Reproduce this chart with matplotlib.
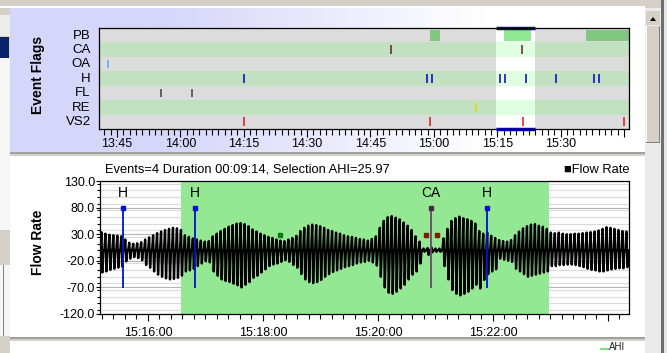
import numpy as np
import matplotlib
matplotlib.use("Agg")
import matplotlib.pyplot as plt
from matplotlib.patches import Rectangle, Polygon
from matplotlib.ticker import MultipleLocator, FuncFormatter

plt.rcParams['font.family'] = ['Liberation Sans', 'DejaVu Sans']

# ---- data ----
rows = ["PB", "CA", "OA", "H", "FL", "RE", "VS2"]

top_window = ("13:40:46", "15:46:10")
top_selection = ("15:14:40", "15:23:50")

pb_spans = [("14:59:10", "15:01:20"), ("15:16:35", "15:22:58"), ("15:36:05", "15:46:10")]
ca_times = ["14:49:50", "15:20:55"]
oa_times = ["13:42:50"]
h_times = ["14:15:00", "14:58:20", "14:59:30", "15:15:34", "15:16:49",
           "15:21:54", "15:28:50", "15:37:50", "15:39:00"]
fl_times = ["13:55:20", "14:02:40"]
re_times = ["15:09:55"]
vs2_times = ["14:15:00", "14:59:00", "15:21:00", "15:44:55"]

flow_window = ("15:15:10", "15:24:22")

# per breath peak / trough of the flow rate trace
peaks = [34, 31, 29, 28, 27, 26,
         20, 14, 12, 13, 15,
         20, 24, 28, 32, 35, 38, 40, 42, 41, 38,
         28, 25, 22, 20, 18, 16, 17,
         26, 31, 36, 40, 44, 47,
         50, 51, 49, 45,
         39, 35, 31, 28, 25, 23,
         20, 18, 17, 20, 23, 27,
         36, 42, 46, 48, 47, 45, 42,
         38, 36, 33, 31, 28, 26, 25, 23, 21, 20,
         18, 21, 26,
         42, 55, 62, 64, 61, 58, 52, 46, 38,
         26, 16,
         3, 4, 5, 3, 3,
         22, 40, 55, 60, 63, 60, 58, 55, 50,
         36, 31, 33, 27, 23,
         19, 17, 16, 19,
         28, 35, 41, 45, 48, 49, 46, 44, 40,
         33, 32, 33, 31, 30, 30, 31, 31, 32, 33, 34, 35,
         37, 40, 43, 42, 40, 38, 36, 35]
troughs = [-42, -40, -37, -35, -33, -31,
           -21, -16, -13, -15, -19,
           -28, -33, -40, -46, -50, -53, -55, -54, -52, -48,
           -40, -38, -35, -30, -25, -21, -23,
           -40, -48, -55, -58, -60, -63,
           -66, -70, -65, -60,
           -52, -48, -42, -36, -30, -27,
           -25, -22, -19, -22, -28, -33,
           -45, -55, -60, -62, -60, -56, -50,
           -45, -41, -38, -35, -32, -30, -28, -25, -23, -22,
           -20, -23, -29,
           -50, -70, -80, -82, -78, -72, -65, -55, -46,
           -40, -25,
           -3, -9, -4, -3, -3,
           -30, -55, -75, -82, -85, -82, -78, -72, -65,
           -72, -56, -45, -40, -36,
           -16, -18, -20, -22,
           -35, -40, -45, -50, -48, -46, -44, -42, -40,
           -30, -30, -28, -28, -27, -27, -28, -30, -32, -35, -37, -38,
           -40, -40, -38, -36, -35, -34, -34, -32]

flow_dots = [("15:18:18", 29), ("15:20:50", 28), ("15:21:02", 28)]
marker_top, marker_bottom = 80, -72

title = "Events=4 Duration 00:09:14, Selection AHI=25.97"


def mins(s):
    p = [int(v) for v in s.split(":")]
    while len(p) < 3:
        p.append(0)
    return p[0] * 60 + p[1] + p[2] / 60.0


W, H = 667, 353
fig = plt.figure(figsize=(W / 100, H / 100), dpi=100)


def box(x0, y0, x1, y1):
    return [x0 / W, 1 - y1 / H, (x1 - x0) / W, (y1 - y0) / H]


# ---- window chrome ----
bg = fig.add_axes([0, 0, 1, 1], zorder=-5)
bg.axis('off')


def rect(x0, y0, x1, y1, c):
    bg.add_patch(Rectangle((x0, y0), x1 - x0, y1 - y0, color=c, lw=0))


grad = np.array([[[214, 214, 250], [255, 255, 255]]]) / 255.0
bg.imshow(grad, extent=[10, 645, 153, 8], aspect='auto', interpolation='bilinear')
rect(0, 0, W, 8, "#d4d0c8")
rect(0, 6, 645, 8, "#ffffff")
rect(0, 8, 10, 353, "#d4d0c8")
rect(0, 15, 10, 36, "#ececec")
rect(0, 37, 9, 58, "#0a246a")
rect(0, 58, 10, 230, "#f6f6f6")
rect(0, 265, 10, 336, "#f6f6f6")
rect(3, 265, 4, 336, "#808080")
rect(10, 152, 645, 157, "#d4d0c8")
rect(10, 152, 645, 153.5, "#a0a0a0")
rect(10, 155.5, 645, 157, "#ffffff")
rect(10, 157, 645, 337, "#ffffff")
rect(10, 337, 645, 341, "#d4d0c8")
rect(10, 337, 645, 338.5, "#a0a0a0")
rect(10, 341, 645, 353, "#ffffff")
# scrollbar
rect(645, 8, 661, 353, "#ebebeb")
rect(646, 11, 660, 25, "#d4d0c8")
rect(646, 26, 660, 143, "#d4d0c8")
rect(646, 26, 647, 143, "#ffffff")
rect(659, 26, 660, 143, "#808080")
rect(646, 142, 660, 143, "#808080")
bg.add_patch(Polygon([[650, 21], [656, 21], [653, 17]], color="k", lw=0))
rect(661, 0, 664, 353, "#6e6e6e")
rect(664, 0, W, 353, "#e6e6e6")
bg.plot([601, 608], [349, 349], color="#80e080", lw=1.5)
bg.text(609, 351.5, "AHI", fontsize=7, va='bottom', ha='left', color="#202020")
bg.set_xlim(0, W)
bg.set_ylim(H, 0)

# ---- event flags panel ----
ax1 = fig.add_axes(box(99, 28, 629, 129))
t0, t1 = mins(top_window[0]), mins(top_window[1])
s0, s1 = mins(top_selection[0]), mins(top_selection[1])
for i, name in enumerate(rows):
    normal = "#dcdcdc" if i % 2 == 0 else "#c1e1c1"
    light = "#ffffff" if i % 2 == 0 else "#e0ffe0"
    ax1.broken_barh([(t0, s0 - t0), (s1, t1 - s1)], (i, 1), color=normal, lw=0)
    ax1.broken_barh([(s0, s1 - s0)], (i, 1), color=light, lw=0)

for a, b in pb_spans:
    a, b = mins(a), mins(b)
    inside = a >= s0 and b <= s1
    ax1.broken_barh([(a, b - a)], (0.12, 0.8), color="#90e890" if inside else "#80c880", lw=0)

flags = [(1, ca_times, "#602028"), (2, oa_times, "#40b0ff"), (3, h_times, "#0000c0"),
         (4, fl_times, "#404040"), (5, re_times, "#e0d800"), (6, vs2_times, "#e01818")]
for row, times, col in flags:
    ax1.vlines([mins(t) for t in times], row + 0.2, row + 0.8, colors=col, lw=1.1)

ax1.plot([s0, s1], [0, 0], color="#0000c0", lw=2.5, clip_on=False, solid_capstyle='butt')
ax1.plot([s0, s1], [7, 7], color="#0000c0", lw=2.5, clip_on=False, solid_capstyle='butt')

ax1.set_xlim(t0, t1)
ax1.set_ylim(7, 0)
ax1.set_yticks(np.arange(len(rows)) + 0.42)
ax1.set_yticklabels(rows, fontsize=9.5)
ax1.tick_params(axis='y', length=0, pad=6)
ax1.xaxis.set_major_locator(MultipleLocator(15))
ax1.xaxis.set_minor_locator(MultipleLocator(1.5))


def hm(v, p):
    if v > t1 - 3:
        return ""
    m = int(round(v))
    return "%d:%02d" % (m // 60, m % 60)


ax1.xaxis.set_major_formatter(FuncFormatter(hm))
ax1.tick_params(axis='x', which='major', length=5.5, width=0.8, pad=1, labelsize=9)
ax1.tick_params(axis='x', which='minor', length=4, width=0.8)
for sp in ax1.spines.values():
    sp.set_linewidth(0.9)

fig.text(38 / W, 1 - 75 / H, "Event Flags", rotation=90, fontsize=10, weight='bold',
         ha='center', va='center')

# ---- flow rate panel ----
ax2 = fig.add_axes(box(100, 181, 629, 314))
w0, w1 = mins(flow_window[0]), mins(flow_window[1])
n = len(peaks)
period = (w1 - w0) / n
idx = np.arange(n)
shape = np.array([0.1, 0.35, 0.6, 0.85])
xs = (w0 + (idx[:, None] + shape) * period).ravel()
zeros = np.zeros(n)
ys = np.column_stack([zeros, peaks, troughs, zeros]).ravel()

pb_a, pb_b = mins(pb_spans[1][0]), mins(pb_spans[1][1])
ax2.axvspan(pb_a, pb_b, color="#94e894", lw=0, zorder=1)
ax2.plot(xs, ys, color="k", lw=1.7, zorder=3)

dot_cols = ["#107810", "#801c00", "#801c00"]
for (t, v), c in zip(flow_dots, dot_cols):
    ax2.plot(mins(t), v, 's', ms=3, color=c, zorder=4)

lower_events = [("H", t, "#0010d0", "#0010d0") for t in h_times] + \
               [("CA", t, "#6a486a", "#4a2a4a") for t in ca_times]
for lab, t, lc, mc in lower_events:
    x = mins(t)
    if w0 <= x <= w1:
        ax2.vlines(x, marker_bottom, marker_top, colors=lc, lw=1.3, zorder=5)
        ax2.plot(x, marker_top, 's', ms=3.5, color=mc, zorder=6)
        ax2.text(x, 108, lab, ha='center', va='center', fontsize=10, zorder=6)

ax2.set_xlim(w0, w1)
ax2.set_ylim(-120, 130)
ax2.set_yticks(np.arange(-120, 131, 50))
ax2.yaxis.set_minor_locator(MultipleLocator(12.5))
ax2.yaxis.set_major_formatter(FuncFormatter(lambda v, p: "%.1f" % v))
ax2.set_axisbelow(True)
ax2.yaxis.grid(True, which='major', color="#b4b4b4", lw=0.8)
ax2.yaxis.grid(True, which='minor', color="#dadada", lw=0.8)
ax2.xaxis.set_major_locator(MultipleLocator(2))
ax2.xaxis.set_minor_locator(MultipleLocator(0.2))


def hms(v, p):
    if v > w1 - 1:
        return ""
    s = int(round(v * 60))
    return "%d:%02d:%02d" % (s // 3600, (s // 60) % 60, s % 60)


ax2.xaxis.set_major_formatter(FuncFormatter(hms))
ax2.tick_params(axis='x', which='major', length=5, width=0.8, pad=4, labelsize=9)
ax2.tick_params(axis='x', which='minor', length=3.5, width=0.8)
ax2.tick_params(axis='y', which='major', length=3, width=0.8, pad=0.5, labelsize=9)
ax2.tick_params(axis='y', which='minor', length=2, width=0.8)
for sp in ax2.spines.values():
    sp.set_linewidth(0.9)

fig.text(105 / W, 1 - 169 / H, title, ha='left', va='center', fontsize=9.3)
fig.text(629 / W, 1 - 170 / H, "\u25a0Flow Rate", ha='right', va='center', fontsize=9.3)
fig.text(38 / W, 1 - 242 / H, "Flow Rate", rotation=90, fontsize=10, weight='bold',
         ha='center', va='center')

fig.savefig("out.png", dpi=100)
